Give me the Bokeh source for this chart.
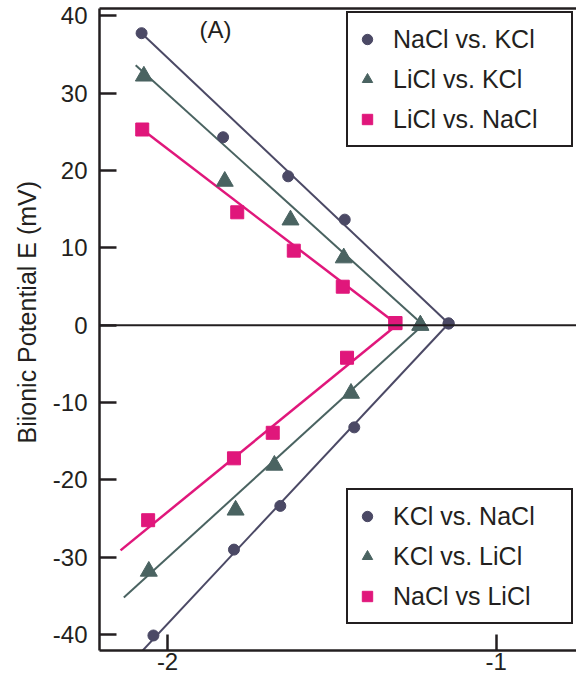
from bokeh.plotting import figure
from bokeh.models import (Range1d, FixedTicker, LinearAxis, Span, Legend, LegendItem,
                          Label, Title)
from bokeh.embed import file_html
from bokeh.resources import INLINE

# ---------------- data ----------------
# upper branch
nacl_kcl_x = [-2.079, -1.831, -1.633, -1.461, -1.145]
nacl_kcl_y = [37.75, 24.3, 19.25, 13.65, 0.23]
licl_kcl_x = [-2.072, -1.826, -1.626, -1.464, -1.231]
licl_kcl_y = [32.2, 18.6, 13.6, 8.7, 0.0]
licl_nacl_x = [-2.077, -1.788, -1.616, -1.467, -1.307]
licl_nacl_y = [25.3, 14.6, 9.64, 4.98, 0.28]
# lower branch
kcl_nacl_x = [-2.043, -1.798, -1.657, -1.432, -1.145]
kcl_nacl_y = [-40.1, -29.0, -23.35, -13.2, 0.23]
kcl_licl_x = [-2.057, -1.793, -1.675, -1.442, -1.231]
kcl_licl_y = [-31.8, -23.9, -18.1, -8.8, 0.0]
nacl_licl_x = [-2.059, -1.798, -1.680, -1.454, -1.307]
nacl_licl_y = [-25.2, -17.2, -13.9, -4.2, 0.28]

# fitted straight lines (end points)
fit_nacl_kcl_x = [-2.079, -1.145]
fit_nacl_kcl_y = [37.75, 0.23]
fit_licl_kcl_x = [-2.097, -1.231]
fit_licl_kcl_y = [33.6, 0.36]
fit_licl_nacl_x = [-2.077, -1.307]
fit_licl_nacl_y = [25.3, 0.28]
fit_kcl_nacl_x = [-2.077, -1.145]
fit_kcl_nacl_y = [-42.1, 0.23]
fit_kcl_licl_x = [-2.133, -1.219]
fit_kcl_licl_y = [-35.2, 0.2]
fit_nacl_licl_x = [-2.143, -1.298]
fit_nacl_licl_y = [-29.1, 0.2]

x_ticks = [-2, -1]
y_ticks = [-40, -30, -20, -10, 0, 10, 20, 30, 40]

upper_labels = ["NaCl vs. KCl", "LiCl vs. KCl", "LiCl vs. NaCl"]
lower_labels = ["KCl vs. NaCl", "KCl vs. LiCl", "NaCl vs LiCl"]

# ---------------- style ----------------
FONT = "Liberation Sans"
INK = "#231f20"
C_CIRC = "#4b4965"
C_TRI = "#4a6361"
C_SQ = "#e0177b"

p = figure(width=576, height=684, output_backend="svg", toolbar_location=None,
           x_range=Range1d(-2.207, -0.756), y_range=Range1d(-42.04, 40.94),
           min_border_left=99, min_border_right=0, min_border_top=8, min_border_bottom=34)
p.outline_line_color = None
p.grid.visible = False
p.background_fill_color = "white"
p.border_fill_color = "white"

# axes
for ax in (p.xaxis[0], p.yaxis[0]):
    ax.axis_line_color = INK
    ax.axis_line_width = 2.5
    ax.major_tick_line_color = INK
    ax.major_tick_line_width = 2.5
    ax.major_tick_out = 0
    ax.minor_tick_line_color = None
    ax.major_label_text_font = FONT
    ax.major_label_text_font_size = "24px"
    ax.major_label_text_color = INK
p.xaxis.ticker = FixedTicker(ticks=x_ticks)
p.yaxis.ticker = FixedTicker(ticks=y_ticks)
p.xaxis.major_label_overrides = {t: str(t) for t in x_ticks}
p.yaxis.major_label_overrides = {t: str(t) for t in y_ticks}
p.xaxis.major_tick_in = 16
p.yaxis.major_tick_in = 17
p.xaxis.major_label_standoff = 2
p.yaxis.major_label_standoff = 12

top_axis = LinearAxis(ticker=FixedTicker(ticks=[]), axis_line_color=INK, axis_line_width=2.5,
                      major_tick_in=0, major_tick_out=0, minor_tick_line_color=None,
                      major_label_text_font_size="0px", major_label_standoff=0)
p.add_layout(top_axis, "above")

ytitle = Title(text="Biionic Potential E (mV)", align="left", offset=207,
               text_font=FONT, text_font_size="25px", text_font_style="normal",
               text_color=INK, standoff=18)
p.add_layout(ytitle, "left")

# zero line
p.add_layout(Span(location=0, dimension="width", line_color=INK, line_width=2))

# fitted lines
p.line(fit_nacl_kcl_x, fit_nacl_kcl_y, line_color=C_CIRC, line_width=2)
p.line(fit_licl_kcl_x, fit_licl_kcl_y, line_color=C_TRI, line_width=2)
p.line(fit_licl_nacl_x, fit_licl_nacl_y, line_color=C_SQ, line_width=2.5)
p.line(fit_kcl_nacl_x, fit_kcl_nacl_y, line_color=C_CIRC, line_width=2)
p.line(fit_kcl_licl_x, fit_kcl_licl_y, line_color=C_TRI, line_width=2)
p.line(fit_nacl_licl_x, fit_nacl_licl_y, line_color=C_SQ, line_width=2.5)

# markers
u1 = p.scatter(nacl_kcl_x, nacl_kcl_y, marker="circle", size=11, fill_color=C_CIRC, line_color=C_CIRC)
u2 = p.scatter(licl_kcl_x, licl_kcl_y, marker="triangle", size=17, fill_color=C_TRI, line_color=C_TRI)
u3 = p.scatter(licl_nacl_x, licl_nacl_y, marker="square", size=13, fill_color=C_SQ, line_color=C_SQ)
l1 = p.scatter(kcl_nacl_x, kcl_nacl_y, marker="circle", size=11, fill_color=C_CIRC, line_color=C_CIRC)
l2 = p.scatter(kcl_licl_x, kcl_licl_y, marker="triangle", size=17, fill_color=C_TRI, line_color=C_TRI)
l3 = p.scatter(nacl_licl_x, nacl_licl_y, marker="square", size=13, fill_color=C_SQ, line_color=C_SQ)


def make_legend(labels, renderers, loc):
    lg = Legend(items=[LegendItem(label=t, renderers=[r]) for t, r in zip(labels, renderers)],
                location=loc, padding=6, spacing=-2, glyph_width=26, glyph_height=40,
                label_height=40, label_width=172, label_standoff=13,
                label_text_font=FONT, label_text_font_size="25px", label_text_color=INK,
                border_line_color=INK, border_line_width=2, border_line_alpha=1,
                background_fill_color="white", background_fill_alpha=1, margin=0)
    p.add_layout(lg)


make_legend(upper_labels, [u1, u2, u3], (247, 503))
make_legend(lower_labels, [l1, l2, l3], (247, 26))

p.add_layout(Label(x=-1.854, y=38.2, text="(A)", text_align="center", text_baseline="middle",
                   text_font=FONT, text_font_size="24px", text_color=INK))

open("out.html", "w").write(file_html(p, INLINE))
